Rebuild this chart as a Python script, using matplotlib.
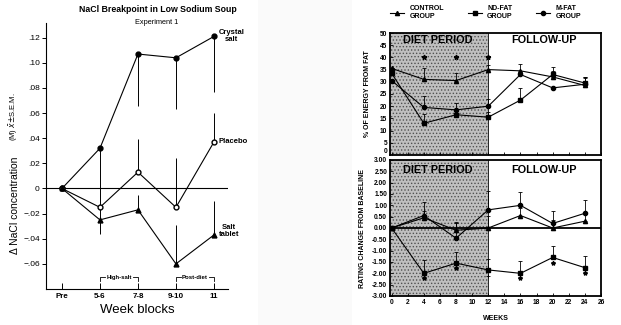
import numpy as np
import matplotlib
matplotlib.use("Agg")
import matplotlib.pyplot as plt
from matplotlib.lines import Line2D
from matplotlib.patches import Rectangle

plt.rcParams['font.family'] = ['Liberation Sans', 'DejaVu Sans']
plt.rcParams['hatch.linewidth'] = 0.6
plt.rcParams['hatch.color'] = '#505050'

# ---- left chart data (NaCl breakpoint) ----
blocks = ['Pre', '5-6', '7-8', '9-10', '11']
crystal = [0, 0.032, 0.107, 0.104, 0.121]
crystal_dn = [0, 0.047, 0.041, 0.041, 0.044]
placebo = [0, -0.015, 0.013, -0.015, 0.037]
placebo_up = [0, 0, 0.026, 0.0395, 0.023]
placebo_dn = [0, 0.010, 0, 0, 0]
tablet = [0, -0.025, -0.017, -0.060, -0.037]
tablet_up = [0, 0, 0.012, 0.031, 0.027]
tablet_dn = [0, 0.011, 0, 0, 0]
left_yticks = [0.12, 0.10, 0.08, 0.06, 0.04, 0.02, 0, -0.02, -0.04, -0.06]
left_yticklabels = ['.12', '.10', '.08', '.06', '.04', '.02', '0', '\u2212.02', '\u2212.04', '\u2212.06']

# ---- right chart data (fat diet) ----
weeks = [0, 4, 8, 12, 16, 20, 24]
control_fat = [35.5, 31, 30.5, 35, 34.5, 32, 28.5]
control_fat_err = [0, 4.5, 3, 2, 3, 2.5, 3.5]
ndfat_fat = [33.5, 13, 16.5, 15.5, 22.5, 33, 29.5]
ndfat_fat_err = [0, 4, 2, 2, 5, 3, 2]
mfat_fat = [30.5, 19.5, 18.5, 20, 33, 27.5, 29]
mfat_fat_err = [0, 4.5, 3, 3, 0, 0, 3]
fat_star_weeks = [4, 8, 12]
fat_star_y = [40, 40, 40]

control_rate = [0, 0.45, -0.1, 0.0, 0.55, 0.0, 0.3]
control_rate_err = [0, 0.3, 0.3, 0.55, 0.35, 0.35, 0.3]
ndfat_rate = [0, -2.0, -1.55, -1.85, -2.0, -1.3, -1.75]
ndfat_rate_err = [0, 0.6, 0.5, 0.5, 0.55, 0.5, 0.5]
mfat_rate = [0, 0.55, -0.45, 0.8, 1.0, 0.2, 0.65]
mfat_rate_err = [0, 0.6, 0.7, 0.85, 0.6, 0.55, 0.6]
rate_star_weeks = [4, 8, 16, 20, 24]
rate_star_y = [-2.2, -1.78, -2.2, -1.55, -2.0]
rate_plus_weeks = [12]
rate_plus_y = [-2.1]

fig = plt.figure(figsize=(6.21, 3.25), dpi=100, facecolor='#fafafa')
W, H = 621.0, 325.0
fig.patches.append(Rectangle((0, 0), 258 / W, 1, transform=fig.transFigure, facecolor='white', edgecolor='none', zorder=-10))
fig.patches.append(Rectangle((352 / W, 0), 1, 1, transform=fig.transFigure, facecolor='white', edgecolor='none', zorder=-10))

# ================= left chart =================
ax = fig.add_axes([46 / W, 1 - 289 / H, 182 / W, 266 / H])
ax.set_facecolor('none')
x = np.arange(len(blocks))
kw = dict(color='black', lw=0.8, elinewidth=0.7, capsize=0)
ax.errorbar(x, crystal, yerr=[crystal_dn, np.zeros(5)], marker='o', ms=3.5, mfc='black', **kw)
ax.errorbar(x, placebo, yerr=[placebo_dn, placebo_up], marker='o', ms=3.5, mfc='white', **kw)
ax.errorbar(x, tablet, yerr=[tablet_dn, tablet_up], marker='^', ms=3.5, mfc='black', **kw)
ax.axhline(0, color='black', lw=0.8)
ax.set_xlim(-0.42, 4.37)
ax.set_ylim(-0.08, 0.1317)
ax.spines['top'].set_visible(False)
ax.spines['right'].set_visible(False)
ax.set_xticks(x)
ax.set_xticklabels(blocks, fontsize=5.8, fontweight='bold')
ax.tick_params(axis='x', direction='in', length=4, width=0.7, pad=3)
ax.set_yticks(left_yticks)
ax.set_yticklabels(left_yticklabels, fontsize=6)
ax.tick_params(axis='y', direction='out', length=3, width=0.7, pad=1.5)
ax.set_xlabel('Week blocks', fontsize=9.5, labelpad=3)

ax.text(4.13, 0.121, 'Crystal\nsalt', fontsize=5.5, fontweight='bold', ha='left', va='center', linespacing=1.0, multialignment='center')
ax.text(4.12, 0.037, 'Placebo', fontsize=5.5, fontweight='bold', ha='left', va='center')
ax.text(4.12, -0.0335, 'Salt\ntablet', fontsize=5.5, fontweight='bold', ha='left', va='center', linespacing=1.0, multialignment='center')

for (a, b, lab) in [(1, 2, 'High-salt'), (3, 4, 'Post-diet')]:
    yb = -0.0705
    ax.plot([a, a, a + 0.13], [yb - 0.003, yb, yb], color='black', lw=0.6)
    ax.plot([b - 0.13, b, b], [yb, yb, yb - 0.003], color='black', lw=0.6)
    ax.text((a + b) / 2, yb, lab, fontsize=4.3, fontweight='bold', ha='center', va='center')

fig.text(158 / W, 1 - 9 / H, 'NaCl Breakpoint in Low Sodium Soup', fontsize=6.3, fontweight='bold', ha='center', va='center')
fig.text(157 / W, 1 - 22 / H, 'Experiment 1', fontsize=5.3, ha='center', va='center')
fig.text(15 / W, 1 - 205 / H, '\u0394 NaCl concentration', fontsize=7.5, rotation=90, ha='center', va='center')
fig.text(14 / W, 1 - 117 / H, r'(M) $\bar{x}$$\pm$S.E.M.', fontsize=5.5, rotation=90, ha='center', va='center')

# ================= right chart =================
ax1 = fig.add_axes([390 / W, 1 - 155 / H, 211 / W, 122 / H])
ax2 = fig.add_axes([390 / W, 1 - 296 / H, 211 / W, 136 / H])

rkw = dict(color='black', lw=0.8, elinewidth=0.6, capsize=1.3, capthick=0.6, ms=3)
for a in (ax1, ax2):
    a.axvspan(-0.2, 12, facecolor='#bfbfbf', hatch='.....', edgecolor='#505050', lw=0, zorder=0)
    a.axvline(12, color='black', lw=0.6, zorder=1)
    a.set_xlim(-0.2, 25.6)
    a.set_xticks(np.arange(0, 27, 2))
    a.tick_params(direction='in', length=2, width=0.6, labelsize=4.8, pad=2)
    for s in a.spines.values():
        s.set_linewidth(1.3)
    ty = 0.94 if a is ax1 else 0.93
    a.text(0.227, ty, 'DIET PERIOD', transform=a.transAxes, fontsize=7.8, fontweight='bold', ha='center', va='center')
    a.text(0.73, ty, 'FOLLOW-UP', transform=a.transAxes, fontsize=7.8, fontweight='bold', ha='center', va='center')

ax1.errorbar(weeks, control_fat, yerr=[np.zeros(7), control_fat_err], marker='^', **rkw)
ax1.errorbar(weeks, ndfat_fat, yerr=[np.zeros(7), ndfat_fat_err], marker='s', **rkw)
ax1.errorbar(weeks, mfat_fat, yerr=[np.zeros(7), mfat_fat_err], marker='o', **rkw)
ax1.plot(fat_star_weeks, fat_star_y, ls='none', marker='*', ms=3.5, color='black')
ax1.set_ylim(0, 50)
ax1.set_yticks(np.arange(5, 51, 5))
ax1.set_xticklabels([])
ax1.set_yticklabels([str(v) for v in range(5, 51, 5)], fontweight='bold')
# zero label of the top panel sits just above the lower panel's top label
ax1.text(-0.012, 0.0, '0', transform=ax1.transAxes, fontsize=4.8, fontweight='bold', ha='right', va='bottom')
ax1.set_ylabel('% OF ENERGY FROM FAT', fontsize=5, fontweight='bold', labelpad=6)

ax2.axhline(0, color='black', lw=1.3, zorder=1)
ax2.errorbar(weeks, control_rate, yerr=[np.zeros(7), control_rate_err], marker='^', **rkw)
ax2.errorbar(weeks, ndfat_rate, yerr=[np.zeros(7), ndfat_rate_err], marker='s', **rkw)
ax2.errorbar(weeks, mfat_rate, yerr=[np.zeros(7), mfat_rate_err], marker='o', **rkw)
ax2.plot(rate_star_weeks, rate_star_y, ls='none', marker='*', ms=3, color='black')
ax2.plot(rate_plus_weeks, rate_plus_y, ls='none', marker='+', ms=3, mew=0.6, color='black')
ax2.set_ylim(-3, 3)
yt = np.arange(-3, 3.01, 0.5)
ax2.set_yticks(yt)
ax2.set_yticklabels(['%.2f' % v for v in yt], fontweight='bold')
ax2.set_xticklabels([str(v) for v in range(0, 27, 2)], fontweight='bold')
ax2.set_ylabel('RATING CHANGE FROM BASELINE', fontsize=5, fontweight='bold', labelpad=4)
ax2.set_xlabel('WEEKS', fontsize=5, fontweight='bold', labelpad=7)

handles = [Line2D([], [], color='black', lw=0.8, marker=m, ms=3) for m in ('^', 's', 'o')]
fig.legend(handles, ['CONTROL\nGROUP', 'ND-FAT\nGROUP', 'M-FAT\nGROUP'], loc='upper left',
           bbox_to_anchor=(386 / W, 1.0 - 1 / H), ncol=3, frameon=False,
           handlelength=2.0, handletextpad=0.8, columnspacing=3.4, borderaxespad=0.2,
           prop={'weight': 'bold', 'size': 5})

fig.savefig('out.png', dpi=100, facecolor=fig.get_facecolor())
